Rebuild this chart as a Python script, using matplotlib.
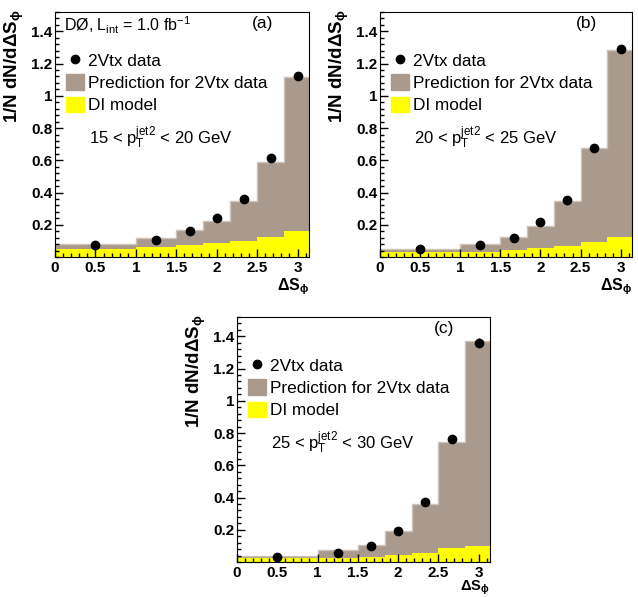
import matplotlib.pyplot as plt
import numpy as np
from matplotlib.lines import Line2D
from matplotlib.patches import Patch
from matplotlib.ticker import MultipleLocator, FuncFormatter

plt.rcParams['font.family'] = ['Liberation Sans', 'DejaVu Sans']
plt.rcParams['mathtext.fontset'] = 'custom'
plt.rcParams['mathtext.rm'] = 'Liberation Sans'
plt.rcParams['mathtext.it'] = 'Liberation Sans:italic'
plt.rcParams['mathtext.bf'] = 'Liberation Sans:bold'

# bin edges and point positions (Delta S_phi)
edges = [0, 1.0, 1.5, 1.833, 2.167, 2.5, 2.833, np.pi]
xpts = [0.5, 1.25, 1.667, 2.0, 2.333, 2.667, 3.0]

# (a) 15 < pT < 20 GeV
pred_a = [0.082, 0.116, 0.170, 0.224, 0.348, 0.592, 1.115]
di_a = [0.052, 0.065, 0.074, 0.086, 0.100, 0.125, 0.163]
data_a = [0.077, 0.107, 0.163, 0.241, 0.360, 0.615, 1.125]
err_a = [0.004, 0.005, 0.006, 0.008, 0.010, 0.013, 0.018]

# (b) 20 < pT < 25 GeV
pred_b = [0.052, 0.083, 0.127, 0.192, 0.346, 0.677, 1.283]
di_b = [0.032, 0.032, 0.046, 0.058, 0.068, 0.095, 0.123]
data_b = [0.052, 0.072, 0.117, 0.220, 0.352, 0.677, 1.290]
err_b = [0.004, 0.005, 0.006, 0.008, 0.010, 0.014, 0.020]

# (c) 25 < pT < 30 GeV
pred_c = [0.035, 0.072, 0.106, 0.190, 0.357, 0.743, 1.373]
di_c = [0.025, 0.027, 0.031, 0.041, 0.056, 0.086, 0.102]
data_c = [0.031, 0.056, 0.102, 0.194, 0.371, 0.763, 1.360]
err_c = [0.004, 0.005, 0.007, 0.010, 0.013, 0.018, 0.028]

brown = '#aa9a8d'
yellow = '#ffff00'

W, H = 638.0, 597.0
fig = plt.figure(figsize=(W/100, H/100), dpi=100)


def rect(l, t, r, b):
    return [l/W, 1 - b/H, (r - l)/W, (b - t)/H]


def panel(r, pred, di, data, err, tag, ptext, lumi=False, xlab_y=-0.08, xlab_fs=11.5):
    ax = fig.add_axes(r)
    ax.stairs(pred, edges, fill=True, color=brown, lw=0)
    ax.stairs(pred, edges, baseline=None, color='#cdc3ba', lw=1)
    ax.stairs(di, edges, fill=True, color=yellow, lw=0)
    ax.errorbar(xpts, data, yerr=err, fmt='o', color='k', ms=6, capsize=0, elinewidth=1)

    ax.set_xlim(0, np.pi)
    ax.set_ylim(0, 1.52)
    ax.set_xticks([0, 0.5, 1, 1.5, 2, 2.5, 3])
    ax.set_yticks([0.2, 0.4, 0.6, 0.8, 1.0, 1.2, 1.4])
    ax.xaxis.set_minor_locator(MultipleLocator(0.1))
    ax.yaxis.set_minor_locator(MultipleLocator(0.04))
    fmt = FuncFormatter(lambda v, p: '%g' % v)
    ax.xaxis.set_major_formatter(fmt)
    ax.yaxis.set_major_formatter(fmt)
    ax.tick_params(which='both', direction='in', top=False, right=False, labelsize=11)
    ax.tick_params(which='major', length=6, width=1)
    ax.tick_params(which='minor', length=3, width=1)
    for lb in ax.get_xticklabels() + ax.get_yticklabels():
        lb.set_fontweight('bold')
    ax.tick_params(axis='x', pad=3)
    ax.tick_params(axis='y', pad=2)

    ax.set_ylabel(r'$\mathbf{1/N\ dN/d\Delta S_{\phi}}$', fontsize=13.5)
    ax.yaxis.set_label_coords(-0.115, 1.01)
    ax.yaxis.label.set_ha('right')
    ax.set_xlabel(r'$\mathbf{\Delta S_{\phi}}$', fontsize=xlab_fs)
    ax.xaxis.set_label_coords(1.0, xlab_y)
    ax.xaxis.label.set_ha('right')
    ax.xaxis.label.set_va('top')

    handles = [Line2D([], [], marker='o', ls='none', color='k', ms=6),
               Patch(color=brown), Patch(color=yellow)]
    ax.legend(handles, ['2Vtx data', 'Prediction for 2Vtx data', 'DI model'],
              loc='upper left', bbox_to_anchor=(0.043, 0.837), frameon=False,
              fontsize=12.4, borderpad=0, borderaxespad=0, handlelength=1.05,
              handleheight=1.0, handletextpad=0.25, labelspacing=0.33)
    ax.text(0.135, 0.485, ptext, transform=ax.transAxes, fontsize=12, va='center')
    ax.text(0.86, 0.955, tag, transform=ax.transAxes, fontsize=12.5, ha='right', va='center')
    if lumi:
        ax.text(0.035, 0.945, r'DØ, L$_{\mathrm{int}}$ = 1.0 fb$^{\mathrm{-1}}$',
                transform=ax.transAxes, fontsize=11.5, va='center')
    return ax


panel(rect(55, 12, 309, 257), pred_a, di_a, data_a, err_a, '(a)',
      r'15 < $\mathrm{p_{T}^{jet2}}$ < 20 GeV', lumi=True)
panel(rect(380, 12, 632, 257), pred_b, di_b, data_b, err_b, '(b)',
      r'20 < $\mathrm{p_{T}^{jet2}}$ < 25 GeV')
panel(rect(237, 317, 490, 562), pred_c, di_c, data_c, err_c, '(c)',
      r'25 < $\mathrm{p_{T}^{jet2}}$ < 30 GeV', xlab_y=-0.069, xlab_fs=10.5)

plt.savefig('out.png', dpi=100)
